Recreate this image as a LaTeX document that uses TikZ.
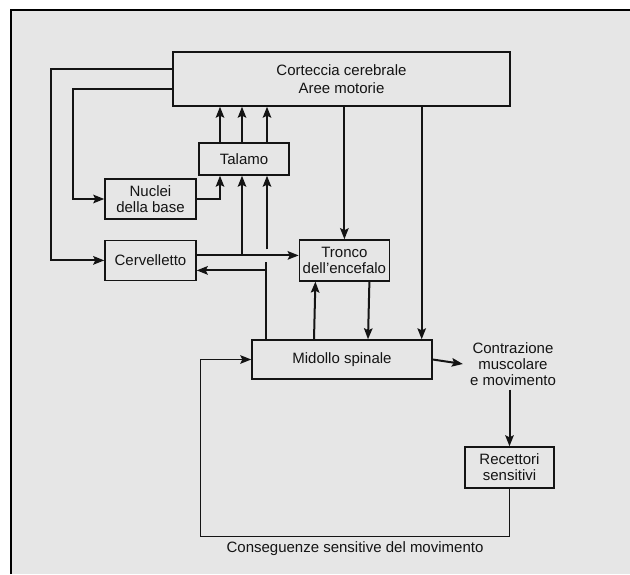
\documentclass[tikz,border=0pt]{standalone}
\usepackage{fontspec}
\setmainfont{Liberation Sans}
\usetikzlibrary{positioning, arrows.meta, calc}
\definecolor{paper}{RGB}{230, 230, 230}
\definecolor{ink}{RGB}{20, 20, 20}
\tikzset{
  box/.style={draw=ink, line width=1.4pt, align=center, inner sep=0pt, text=ink},
  arr/.style={-{Stealth[length=11pt, width=8.5pt, inset=2pt]}, line width=2pt, draw=ink},
  thinarr/.style={-{Stealth[length=11pt, width=8.5pt, inset=2pt]}, line width=1.5pt, draw=ink},
  conn/.style={line width=1.8pt, draw=ink},
  lbl/.style={align=center, text=ink},
}
\begin{document}
\begin{tikzpicture}[x=1pt, y=-1pt, font=\fontsize{15}{16}\selectfont]
  \useasboundingbox (0,0) rectangle (630,574);
  % page and frame
  \fill[white] (0,0) rectangle (630,574);
  \fill[paper] (11,10) rectangle (630,574);
  \draw[line width=2.5pt] (11,574) -- (11,10) -- (630,10);
  % boxes
  \node[box, minimum width=337pt, minimum height=54pt] (cortex) at (341.5,79)
    {Corteccia cerebrale\\[2pt] Aree motorie};
  \node[box, minimum width=90pt, minimum height=32pt] (talamo) at (244,159) {Talamo};
  \node[box, minimum width=91pt, minimum height=40pt] (nuclei) at (150.5,199)
    {Nuclei\\ della base};
  \node[box, minimum width=91pt, minimum height=40pt, below=20pt of nuclei] (cerv)
    {Cervelletto};
  \node[box, minimum width=90pt, minimum height=41pt, right=102pt of cerv] (tronco)
    {Tronco\\ dell'encefalo};
  \node[box, minimum width=180pt, minimum height=39pt] (midollo) at (342,359.5)
    {Midollo spinale};
  \node[lbl, inner xsep=7pt, inner ysep=4pt] (contr) at (513,364)
    {Contrazione\\ muscolare\\ e movimento};
  \node[box, minimum width=89pt, minimum height=41pt] (recettori) at (509.5,467.5)
    {Recettori\\ sensitivi};
  \node[lbl] (cons) at (355,549) {Conseguenze sensitive del movimento};
  % helper points
  \coordinate (hl) at ($(cerv.east)+(0,-5)$);
  \coordinate (hr) at ($(cerv.east)+(0,10)$);
  % cortex to basal nuclei and cerebellum
  \draw[arr] ($(cortex.west)+(0,-10)$) -| ($(cerv.west)+(-53,0)$) -- (cerv.west);
  \draw[arr] ($(cortex.west)+(0,10)$) -| ($(nuclei.west)+(-31,0)$) -- (nuclei.west);
  \draw[arr] (nuclei.east) -| ($(talamo.south)+(-24,0)$);
  % thalamus to cortex
  \foreach \dx in {-24,-2,23} {
    \path ($(talamo.north)+(\dx,0)$) coordinate (tq);
    \draw[arr] (tq) -- (tq |- cortex.south);
  }
  % cerebellum outputs
  \draw[arr] (hl) -- (hl -| tronco.west);
  \draw[arr] ($(hl -| talamo.south)+(-2,0)$) -- ($(talamo.south)+(-2,0)$);
  \draw[arr] ($(hl -| talamo.south)+(23,-6)$) -- ($(talamo.south)+(23,0)$);
  \draw[conn] ($(midollo.north west)+(15,0)$) -- ($(hl -| midollo.north west)+(15,7)$);
  \draw[arr] ($(hr -| midollo.north west)+(15,0)$) -- (hr);
  % descending paths
  \draw[arr] (cortex.south -| tronco.north) -- (tronco.north);
  \draw[arr] ($(cortex.south east)+(-89,0)$) -- ($(midollo.north east)+(-11,0)$);
  \draw[arr] ($(midollo.north)+(-28,0)$) -- ($(tronco.south)+(-29,0)$);
  \draw[arr] ($(tronco.south)+(25,0)$) -- ($(midollo.north)+(26,0)$);
  % output and feedback
  \draw[arr] (midollo.east) -- (contr.west);
  \draw[arr] (contr.south -| recettori.north) -- (recettori.north);
  \draw[thinarr] (recettori.south) -- ++(0,48) -| ($(midollo.west)+(-51,0)$) -- (midollo.west);
\end{tikzpicture}
\end{document}
